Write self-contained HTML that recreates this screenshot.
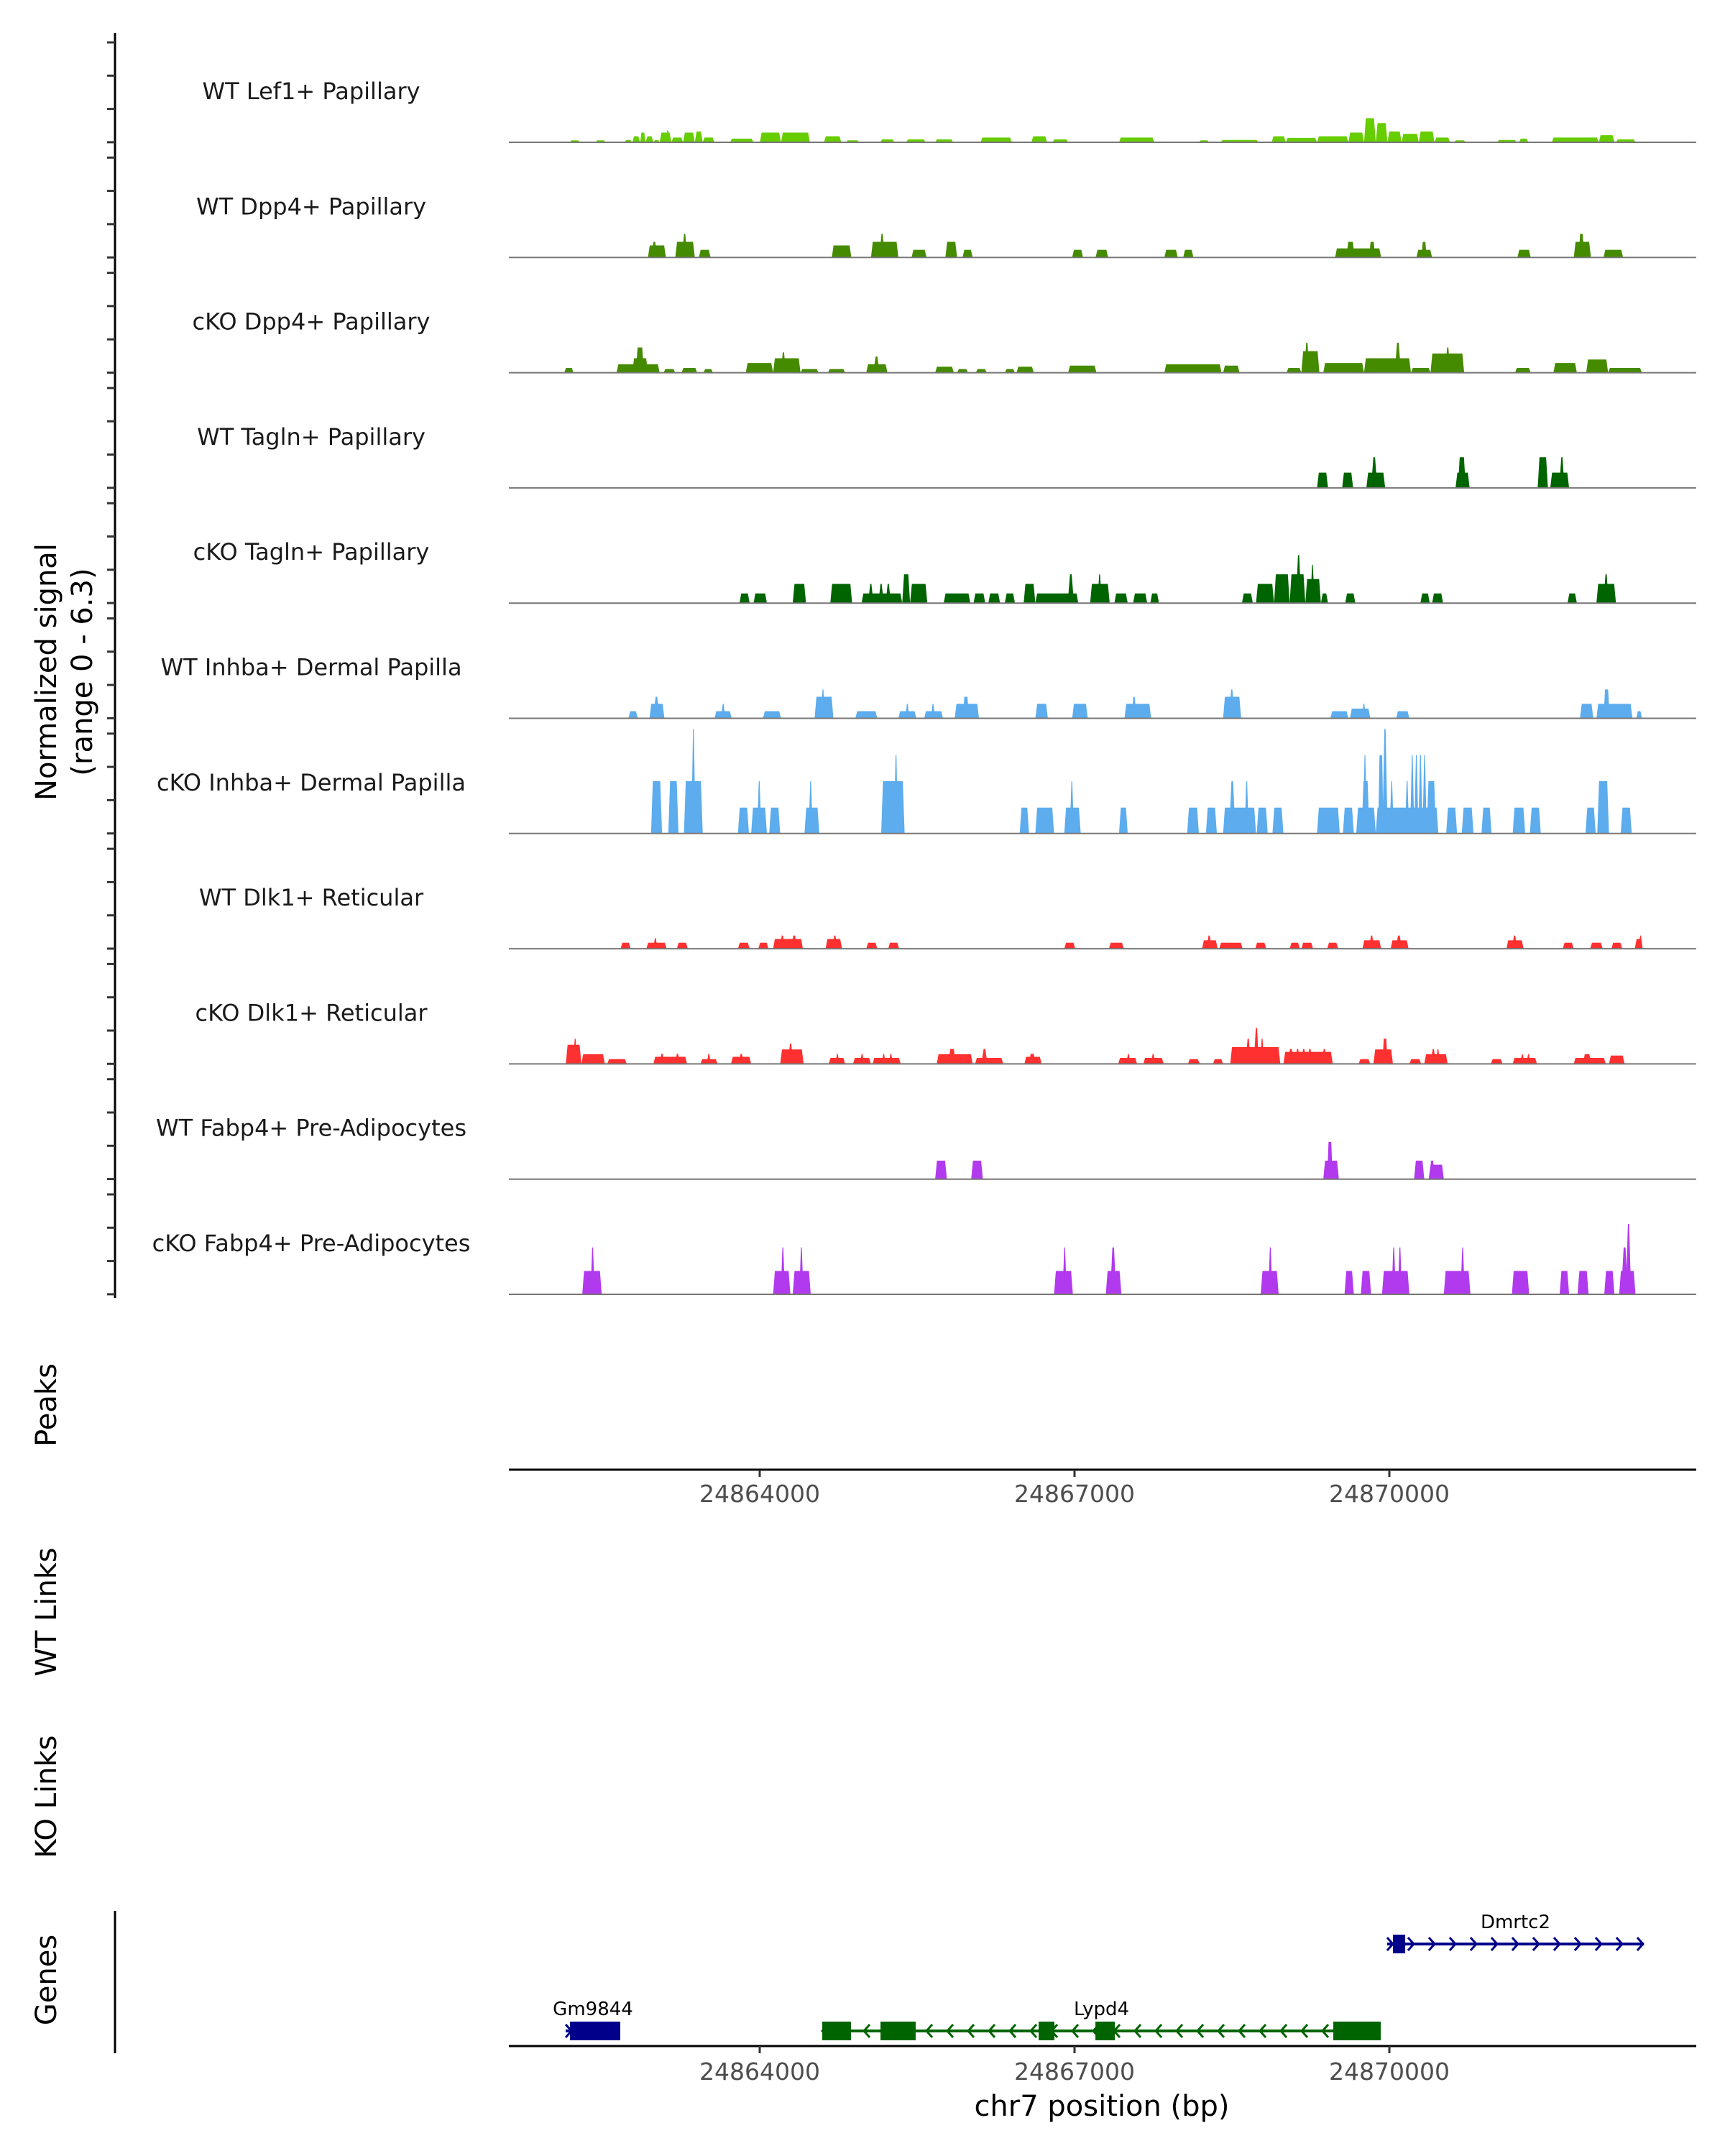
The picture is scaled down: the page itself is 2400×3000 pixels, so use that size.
<!DOCTYPE html>
<html><head><meta charset="utf-8">
<style>
html,body{margin:0;padding:0;background:#fff;}
svg{display:block;font-family:"DejaVu Sans","Liberation Sans",sans-serif;}
</style></head>
<body>
<svg id="chart" width="2400" height="3000" viewBox="0 0 2400 3000" xmlns="http://www.w3.org/2000/svg">
<rect x="0" y="0" width="2400" height="3000" fill="#fff"/>
<text transform="translate(78,935) rotate(-90)" text-anchor="middle" font-size="40" fill="#000">Normalized signal</text>
<text transform="translate(128,935) rotate(-90)" text-anchor="middle" font-size="40" fill="#000">(range 0 - 6.3)</text>
<text transform="translate(78,1955) rotate(-90)" text-anchor="middle" font-size="40" fill="#000">Peaks</text>
<text transform="translate(78,2243) rotate(-90)" text-anchor="middle" font-size="40" fill="#000">WT Links</text>
<text transform="translate(78,2500) rotate(-90)" text-anchor="middle" font-size="40" fill="#000">KO Links</text>
<text transform="translate(78,2755) rotate(-90)" text-anchor="middle" font-size="40" fill="#000">Genes</text>
<text x="1533" y="2944" text-anchor="middle" font-size="40" fill="#000">chr7 position (bp)</text>
</svg>
<script>
// ---- data ----
const REGION_START = 24861555; // bp; block positions are offsets from this
const OFFSET_SCALE = 0.98;     // offsets units -> bp
const trackNames = ["WT Lef1+ Papillary","WT Dpp4+ Papillary","cKO Dpp4+ Papillary","WT Tagln+ Papillary","cKO Tagln+ Papillary","WT Inhba+ Dermal Papilla","cKO Inhba+ Dermal Papilla","WT Dlk1+ Reticular","cKO Dlk1+ Reticular","WT Fabp4+ Pre-Adipocytes","cKO Fabp4+ Pre-Adipocytes"];
const trackColors = ["#66CD00","#458B00","#458B00","#006400","#006400","#5CACEE","#5CACEE","#FF3030","#FF3030","#B23AEE","#B23AEE"];
const xTicks = [24864000, 24867000, 24870000];
const xTickLabels = ["24864000","24867000","24870000"];
const yMax = 6.3;

const lef1WT = [[647,746,.11],[898,997,.11],[1180,1256,.13],[1256,1332,.33],[1332,1385,.53],[1385,1461,.33],[1461,1522,.13],[1522,1636,.53],[1590,1610,.66],[1636,1750,.26],[1750,1864,.53],[1864,1941,.59],[1941,2055,.26],[2207,2435,.2],[2496,2702,.53],[2702,2983,.53],[3120,3288,.33],[3333,3463,.11],[3668,3805,.16],[3919,4109,.16],[4201,4376,.16],[4642,4947,.26],[5137,5289,.33],[5342,5494,.16],[5989,6332,.26],[6765,6864,.11],[6978,7344,.13],[7473,7610,.33],[7610,7914,.24],[7914,8219,.33],[8219,8371,.53],[8371,8485,1.32],[8485,8599,1.05],[8599,8736,.59],[8736,8904,.46],[8904,9056,.59],[9056,9208,.26],[9246,9360,.11],[9665,9855,.13],[9878,9969,.2],[10197,10654,.26],[10654,10806,.39],[10821,11011,.16]];
const dpp4WT = [[1408,1583,.66],[1450,1490,.86],[1674,1864,.86],[1750,1780,1.29],[1903,2017,.42],[3196,3386,.66],[3577,3843,.86],[3670,3700,1.29],[3972,4117,.42],[4300,4414,.86],[4467,4566,.42],[5533,5639,.42],[5761,5883,.42],[6430,6560,.42],[6613,6712,.42],[8090,8538,.5],[8200,8280,.86],[8420,8480,.86],[8881,9033,.42],[8930,8980,.86],[9863,9992,.42],[10411,10578,.86],[10460,10510,1.29],[10700,10890,.42]];
const dpp4KO = [[594,685,.26],[1103,1522,.46],[1256,1408,.79],[1290,1370,1.38],[1560,1674,.2],[1735,1887,.26],[1948,2040,.2],[2359,2625,.53],[2625,2892,.79],[2710,2740,1.12],[2892,3067,.2],[3158,3326,.2],[3531,3737,.46],[3610,3650,.89],[4201,4383,.33],[4414,4520,.2],[4596,4703,.2],[4878,4977,.2],[4992,5160,.33],[5494,5769,.39],[6430,6986,.46],[7001,7161,.39],[7618,7762,.26],[7762,7937,1.18],[7800,7830,1.64],[7975,8371,.53],[8371,8828,.79],[8680,8720,1.64],[8828,9018,.26],[9018,9345,1.05],[9170,9200,1.38],[9840,9992,.26],[10213,10441,.53],[10532,10745,.72],[10745,11073,.26]];
const taglnWT = [[7914,8021,.84],[8158,8265,.84],[8394,8577,.84],[8450,8490,1.68],[9261,9398,.84],[9284,9360,1.68],[10060,10159,1.68],[10182,10365,.84],[10280,10310,1.68]];
const taglnKO = [[2298,2397,.53],[2435,2565,.53],[2816,2945,1.05],[3181,3394,1.05],[3485,3881,.53],[3560,3590,1.05],[3660,3690,1.05],[3730,3760,1.05],[3881,3957,1.58],[3957,4125,1.05],[4284,4543,.53],[4574,4688,.53],[4718,4832,.53],[4878,4977,.53],[5061,5175,1.05],[5175,5593,.53],[5500,5540,1.58],[5708,5898,1.05],[5790,5810,1.58],[5943,6073,.53],[6126,6263,.53],[6293,6377,.53],[7184,7290,.53],[7321,7496,1.05],[7496,7648,1.58],[7648,7800,1.58],[7720,7750,2.63],[7800,7952,1.32],[7860,7880,2.1],[7952,8021,.53],[8188,8287,.53],[8919,9010,.53],[9033,9140,.53],[10350,10441,.53],[10631,10821,1.05],[10710,10740,1.58]];
const inhbaWT = [[1218,1309,.39],[1423,1568,.79],[1470,1510,1.18],[2055,2222,.39],[2130,2150,.79],[2527,2702,.39],[3029,3211,1.18],[3100,3120,1.58],[3425,3638,.39],[3843,4018,.39],[3920,3940,.79],[4094,4277,.39],[4170,4190,.79],[4391,4627,.79],[4470,4530,1.18],[5175,5297,.79],[5533,5685,.79],[6042,6301,.79],[6120,6150,1.18],[7001,7176,1.18],[7070,7100,1.58],[8044,8219,.39],[8234,8432,.53],[8360,8380,.79],[8683,8812,.39],[10471,10601,.79],[10631,10981,.79],[10700,10760,1.58],[11019,11073,.39]];
const inhbaKO = [[1438,1545,2.87],[1606,1705,2.87],[1758,1941,2.87],[1840,1860,5.72],[2283,2390,1.42],[2412,2565,1.42],[2480,2500,2.87],[2587,2694,1.42],[2930,3074,1.42],[2980,3000,2.87],[3676,3904,2.87],[3810,3830,4.29],[5023,5114,1.42],[5175,5357,1.42],[5456,5616,1.42],[5520,5540,2.87],[5989,6073,1.42],[6651,6765,1.42],[6834,6940,1.42],[7001,7321,1.42],[7070,7110,2.87],[7220,7240,2.87],[7328,7435,1.42],[7481,7587,1.42],[7914,8135,1.42],[8166,8272,1.42],[8295,8485,1.42],[8348,8424,2.87],[8370,8390,4.29],[8485,9094,1.42],[8508,8561,4.29],[8560,8590,5.72],[8630,8650,2.87],[8780,8800,2.87],[8830,8850,4.29],[8870,8890,4.29],[8910,8930,4.29],[8950,8970,4.29],[8980,9071,2.87],[9170,9276,1.42],[9322,9436,1.42],[9513,9611,1.42],[9817,9938,1.42],[9984,10090,1.42],[10525,10624,1.42],[10639,10753,2.87],[10867,10974,1.42]];
const dlk1WT = [[1142,1240,.33],[1393,1590,.33],[1470,1490,.59],[1689,1796,.33],[2283,2397,.33],[2481,2580,.33],[2625,2915,.53],[2700,2730,.72],[2810,2850,.72],[3135,3295,.53],[3210,3240,.72],[3531,3638,.33],[3744,3851,.33],[5456,5563,.33],[5890,6035,.33],[6796,6948,.46],[6850,6880,.72],[6963,7191,.33],[7313,7420,.33],[7648,7747,.33],[7762,7876,.33],[8013,8120,.33],[8356,8538,.46],[8430,8460,.72],[8630,8805,.46],[8690,8730,.72],[9756,9923,.46],[9820,9850,.72],[10304,10410,.33],[10570,10692,.33],[10776,10882,.33],[11004,11080,.53],[11050,11070,.72]];
const dlk1KO = [[609,761,1.05],[690,710,1.38],[761,989,.53],[1012,1202,.26],[1461,1788,.39],[1530,1560,.55],[1680,1710,.55],[1918,2085,.26],[1990,2010,.55],[2215,2412,.39],[2300,2330,.55],[2694,2922,.79],[2780,2810,1.12],[3166,3326,.33],[3240,3260,.55],[3402,3577,.33],[3480,3500,.55],[3592,3866,.33],[3690,3710,.55],[3760,3780,.55],[4216,4566,.53],[4330,4400,.82],[4589,4863,.33],[4660,4700,.82],[5068,5236,.39],[5114,5175,.55],[5981,6164,.33],[6070,6090,.55],[6225,6423,.33],[6310,6330,.55],[6659,6773,.26],[6902,7001,.26],[7070,7557,.92],[7230,7260,1.38],[7310,7340,1.97],[7370,7390,1.38],[7587,8067,.66],[7640,7680,.82],[7710,7740,.82],[7770,7800,.82],[7830,7860,.82],[7970,8000,.82],[8318,8432,.26],[8462,8652,.79],[8550,8600,1.38],[8812,8927,.26],[8957,9185,.53],[9030,9060,.82],[9080,9100,.82],[9604,9718,.26],[9817,10053,.33],[9900,9920,.53],[9960,9980,.53],[10410,10722,.33],[10500,10580,.53],[10753,10905,.46]];
const fabp4WT = [[4201,4315,1.01],[4551,4665,1.01],[7975,8127,1.01],[8013,8066,2.04],[8858,8957,1.01],[9003,9147,.79],[9010,9056,1.01]];
const fabp4KO = [[769,959,1.28],[860,880,2.57],[2625,2793,1.28],[2710,2730,2.57],[2816,2991,1.28],[2890,2910,2.57],[5357,5540,1.28],[5450,5470,2.57],[5860,6012,1.28],[5913,5951,2.57],[7366,7541,1.28],[7450,7470,2.57],[8181,8272,1.28],[8340,8440,1.28],[8546,8812,1.28],[8650,8670,2.57],[8710,8730,2.57],[9147,9406,1.28],[9320,9340,2.57],[9809,9977,1.28],[10273,10365,1.28],[10448,10555,1.28],[10707,10806,1.28],[10852,11011,1.28],[10882,10928,2.57],[10928,10958,3.86]];
const trackData = [lef1WT,dpp4WT,dpp4KO,taglnWT,taglnKO,inhbaWT,inhbaKO,dlk1WT,dlk1KO,fabp4WT,fabp4KO];

// genes
const geneNames = ["Dmrtc2","Gm9844","Lypd4"];
const geneStarts = [24869979, 24862151, 24864596];
const geneEnds = [24872425, 24862671, 24869918];
const geneStrands = ["+","+","-"];
const geneRows = [0, 1, 1];
const geneExons = [[[24870034,24870151]],[[24862192,24862671]],[[24864596,24864870],[24865151,24865486],[24866658,24866808],[24867199,24867384],[24869466,24869918]]];
const geneColors = ["#00008B","#00008B","#006400"];

// ---- layout / scales ----
const PX_PER_BP = 0.146, X_REF_BP = 24864000, X_REF_PX = 1057;
const PLOT_L = 708, PLOT_R = 2360;
function xScale(bp){ return X_REF_PX + (bp - X_REF_BP) * PX_PER_BP; }
function offToBp(off){ return REGION_START + off * OFFSET_SCALE; }
const TRACK_H = 160.3, FIRST_BASE = 198, VAL_PX = 25.4;
function baseY(i){ return FIRST_BASE + i * TRACK_H; }
function yScale(i, v){ return baseY(i) - v * VAL_PX; }

const NS = "http://www.w3.org/2000/svg";
const svg = document.getElementById("chart");
function mk(tag, attrs){ const e = document.createElementNS(NS, tag); for (const k in attrs) e.setAttribute(k, attrs[k]); return e; }

const axis = mk("line", {x1:160, y1:46, x2:160, y2:1806, stroke:"#000", "stroke-width":3});


svg.appendChild(axis);

trackData.forEach((blocks, i) => {
  const g = mk("g", {});
  
  
  svg.appendChild(g);
  for (let t = 0; t < 4; t++) {
    const ty = baseY(i) - 139 + t * 46.3;
    const tk = mk("line", {x1:149, y1:ty, x2:160, y2:ty, stroke:"#333", "stroke-width":3});
    
    
    g.appendChild(tk);
  }
  const lb = mk("text", {x:433, y:baseY(i) - 60, "text-anchor":"middle", "font-size":32, fill:"#1a1a1a"});
  lb.textContent = trackNames[i];
  
  
  g.appendChild(lb);
  blocks.forEach(b => {
    const x0 = xScale(offToBp(b[0])), x1 = xScale(offToBp(b[1]));
    const by = baseY(i), ty = yScale(i, b[2]);
    const w = x1 - x0;
    let pts;
    if (w < 7) {
      pts = [[x0 - 1.5, by], [x0 + w * 0.3, ty], [x1 - w * 0.3, ty], [x1 + 1.5, by]];
    } else {
      const r = Math.min(2.5, w / 4);
      pts = [[x0, by], [x0 + r, ty], [x1 - r, ty], [x1, by]];
    }
    const p = mk("polygon", {points: pts.map(q => q[0].toFixed(1) + "," + q[1].toFixed(1)).join(" "), fill: trackColors[i]});
    
    
    g.appendChild(p);
  });
  const bl = mk("line", {x1:PLOT_L, y1:baseY(i), x2:PLOT_R, y2:baseY(i), stroke:"#777", "stroke-width":2});
  
  
  g.appendChild(bl);
});

function drawXAxis(yLine, yLabel, name){
  const g = mk("g", {});
  
  
  svg.appendChild(g);
  const l = mk("line", {x1:PLOT_L, y1:yLine, x2:PLOT_R, y2:yLine, stroke:"#000", "stroke-width":3});
  
  
  g.appendChild(l);
  xTicks.forEach((t, k) => {
    const x = xScale(t);
    const tk = mk("line", {x1:x, y1:yLine, x2:x, y2:yLine + 10, stroke:"#333", "stroke-width":3});
    
    
    g.appendChild(tk);
    const tl = mk("text", {x:x, y:yLabel, "text-anchor":"middle", "font-size":33, fill:"#4d4d4d"});
    tl.textContent = xTickLabels[k];
    
    
    g.appendChild(tl);
  });
}
drawXAxis(2045, 2090, 'peaks-x-axis');
drawXAxis(2847, 2894, 'genes-x-axis');

const ga = mk("line", {x1:160, y1:2659, x2:160, y2:2857, stroke:"#000", "stroke-width":3});


svg.appendChild(ga);

const rowY = [2705, 2826];
geneNames.forEach((nm, k) => {
  const g = mk("g", {});
  
  
  svg.appendChild(g);
  const y = rowY[geneRows[k]], c = geneColors[k];
  const x0 = xScale(geneStarts[k]), x1 = xScale(geneEnds[k]);
  const ln = mk("line", {x1:x0, y1:y, x2:x1, y2:y, stroke:c, "stroke-width":4});
  
  
  g.appendChild(ln);
  const dir = geneStrands[k] === "+" ? 1 : -1;
  for (let x = x0 + 4; x <= x1 - 2; x += 29) {
    const ch = mk("polyline", {points: (x - 4*dir) + "," + (y - 9) + " " + (x + 4*dir) + "," + y + " " + (x - 4*dir) + "," + (y + 9), fill:"none", stroke:c, "stroke-width":3});
    
    
    g.appendChild(ch);
  }
  geneExons[k].forEach(ex => {
    const ea = xScale(ex[0]), eb = xScale(ex[1]);
    const r = mk("rect", {x:ea, y:y - 13, width:eb - ea, height:26, fill:c});
    
    
    g.appendChild(r);
  });
  const t = mk("text", {x:(x0 + x1) / 2, y:y - 22, "text-anchor":"middle", "font-size":26, fill:"#000"});
  t.textContent = nm;
  
  
  g.appendChild(t);
});
</script>
</body></html>
